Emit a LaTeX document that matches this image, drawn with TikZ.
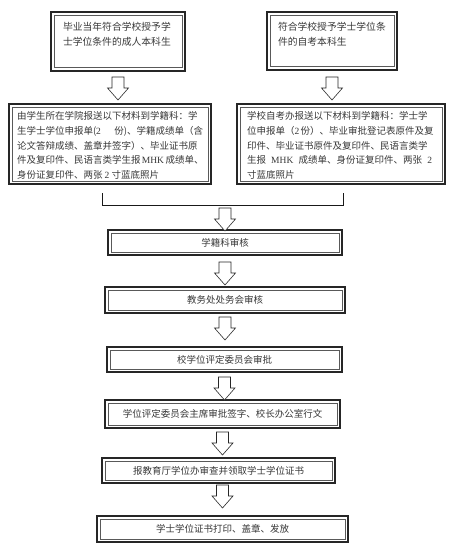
\documentclass[tikz,border=0pt]{standalone}
\usepackage{fontspec}
\setmainfont{Noto Sans CJK SC}
\newfontfamily\lat{Liberation Serif}
\XeTeXlinebreaklocale "zh"
\XeTeXlinebreakskip=0pt plus 1.5pt minus 0.6pt
\usetikzlibrary{calc}
\newcommand\jl[2]{\makebox[#1][s]{#2}}
\tikzset{
  box/.style={draw=black!85, line width=1.6pt, fill=white, inner sep=0pt, outer sep=0pt, anchor=north west,
    font=\fontsize{9.5pt}{12pt}\selectfont, text=black!78},
  inbox/.style={draw=black!65, line width=0.6pt},
  txt/.style={inner sep=0pt, outer sep=0pt, anchor=north west, align=left, text=black!78},
  hollow/.pic={\draw[line width=0.6pt, draw=black!85, fill=white]
     (-6,0) -- (6,0) -- (6,11) -- (10.5,11) -- (0,23) -- (-10.5,11) -- (-6,11) -- cycle;},
  bracket/.style={draw=black!90, line width=0.7pt}
}
\begin{document}
\begin{tikzpicture}[x=1pt,y=-1pt]
\useasboundingbox (0,0) rectangle (451,559);
% boxes
\node[box, minimum width=134pt, minimum height=59pt] (b1) at (51,12) {};
\node[box, minimum width=130pt, minimum height=58pt] (b2) at (267,12) {};
\node[box, minimum width=202pt, minimum height=80pt] (b3) at (9,104) {};
\node[box, minimum width=208pt, minimum height=80pt] (b4) at (237,104) {};
\node[box, minimum width=234pt, minimum height=25pt] (b5) at (108,230) {学籍科审核};
\node[box, minimum width=240pt, minimum height=26pt] (b6) at (105,287) {教务处处务会审核};
\node[box, minimum width=235pt, minimum height=25pt] (b7) at (107,347) {校学位评定委员会审批};
\node[box, minimum width=235pt, minimum height=28pt] (b8) at (105,400) {学位评定委员会主席审批签字、校长办公室行文};
\node[box, minimum width=233pt, minimum height=25pt] (b9) at (102,458) {报教育厅学位办审查并领取学士学位证书};
\node[box, minimum width=251pt, minimum height=26pt] (b10) at (97,516) {学士学位证书打印、盖章、发放};
\foreach \n in {b1,b2,b3,b4,b5,b6,b7,b8,b9,b10}
  \draw[inbox] ([shift={(3.2pt,-3.2pt)}]\n.north west) rectangle ([shift={(-3.2pt,3.2pt)}]\n.south east);
% texts of the upper boxes
\node[txt, font=\fontsize{9.8pt}{15pt}\selectfont] (t1) at ($(b1.north west)+(12,9.7)$)
  {毕业当年符合学校授予学\\士学位条件的成人本科生};
\node[txt, font=\fontsize{9.8pt}{15pt}\selectfont] (t2) at ($(b2.north west)+(11,9.7)$)
  {符合学校授予学士学位条\\件的自考本科生};
\node[txt, font=\fontsize{9.5pt}{14.7pt}\selectfont] (t3) at ($(b3.north west)+(8,7.7)$)
  {\jl{186pt}{由学生所在学院报送以下材料到学籍科：学}\\
   \jl{186pt}{生学士学位申报单({\lat 2} 份)、学籍成绩单（含}\\
   \jl{186pt}{论文答辩成绩、盖章并签字）、毕业证书原}\\
   \jl{186pt}{件及复印件、民语言类学生报 {\lat MHK} 成绩单、}\\
   身份证复印件、两张 {\lat 2} 寸蓝底照片};
\node[txt, font=\fontsize{9.5pt}{14.7pt}\selectfont] (t4) at ($(b4.north west)+(10,7.7)$)
  {\jl{185pt}{学校自考办报送以下材料到学籍科：学士学}\\
   \jl{185pt}{位申报单（{\lat 2} 份）、毕业审批登记表原件及复}\\
   \jl{185pt}{印件、毕业证书原件及复印件、民语言类学}\\
   \jl{185pt}{生报 {\lat MHK} 成绩单、身份证复印件、两张 {\lat 2}}\\
   寸蓝底照片};
% bracket joining the two columns
\coordinate (brl) at (102,193);
\coordinate (brlb) at (102,205);
\coordinate (brrb) at (343,205);
\coordinate (brr) at (343,193);
\draw[bracket] (brl) -- (brlb) -- (brrb) -- (brr);
% hollow arrows
\pic at ($(b1.south)+(0,6)$) {hollow};
\pic at ($(b2.south)+(0,7)$) {hollow};
\pic at ($(b5.north)+(0,-22)$) {hollow};
\pic at ($(b5.south)+(0,7)$) {hollow};
\pic at ($(b6.south)+(0,4)$) {hollow};
\pic at ($(b7.south)+(0,5)$) {hollow};
\pic at ($(b8.south)+(0,4)$) {hollow};
\pic at ($(b10.north)+(0,-31)$) {hollow};
\end{tikzpicture}
\end{document}
